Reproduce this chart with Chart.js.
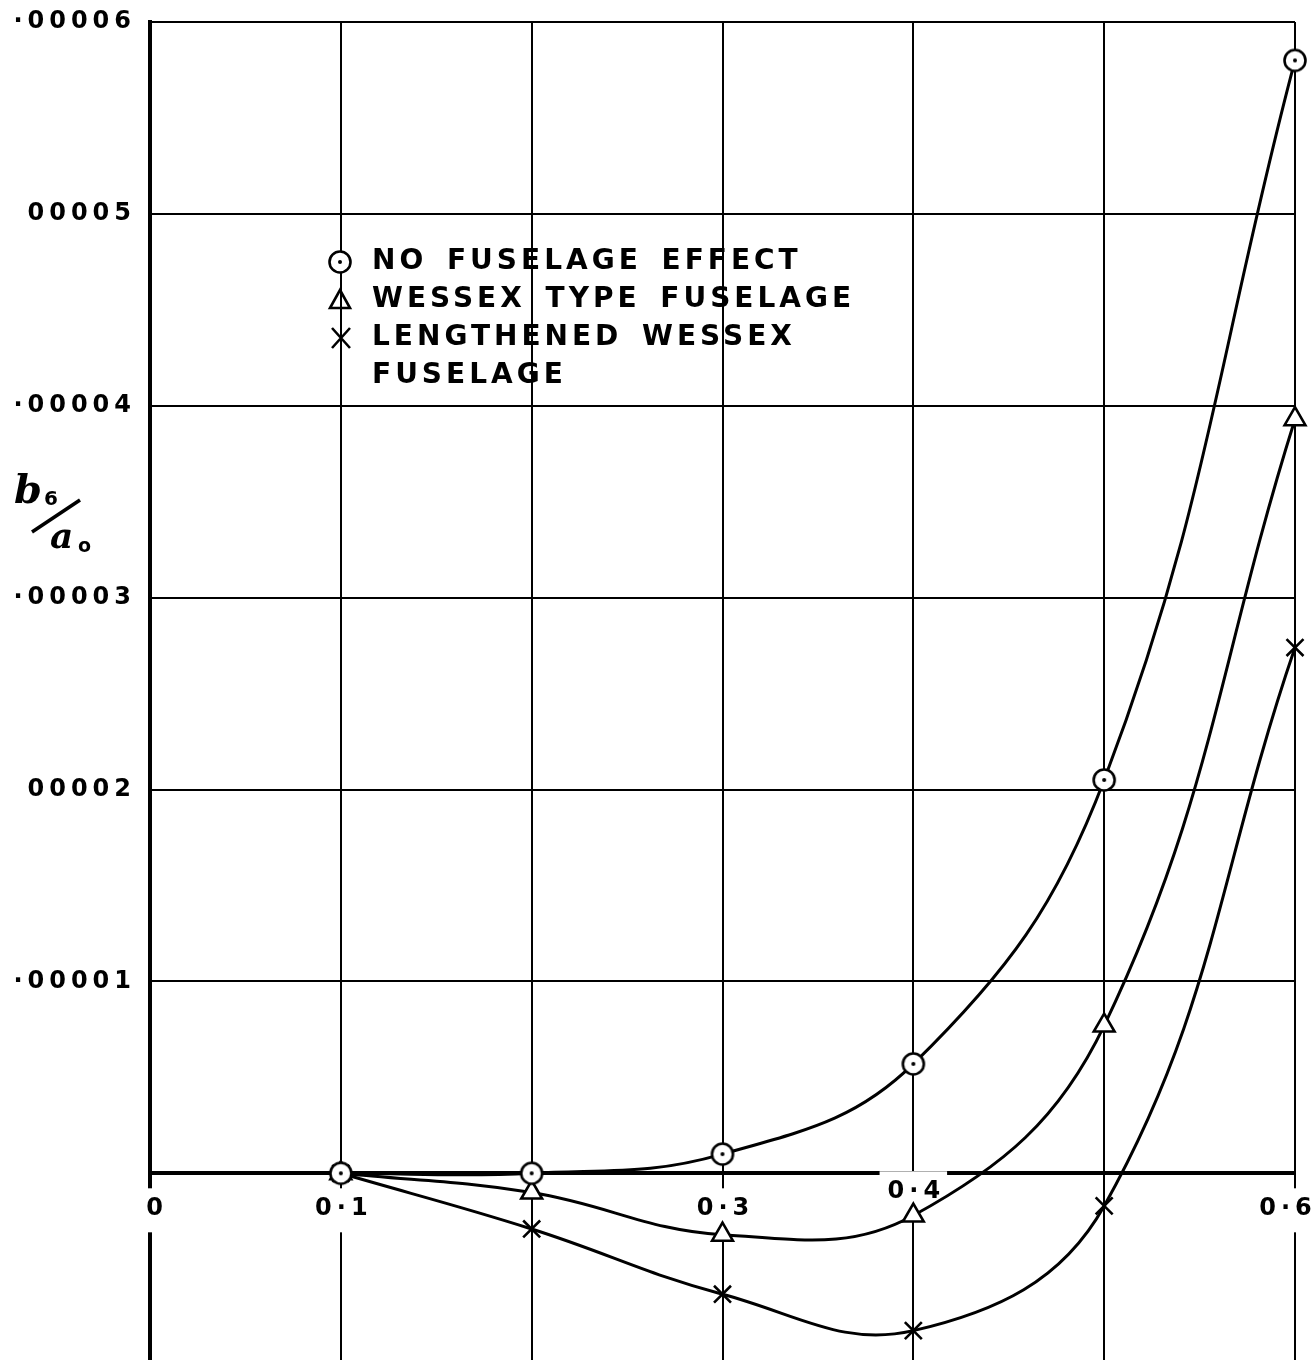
<!DOCTYPE html>
<html>
<head>
<meta charset="utf-8">
<script src="https://cdn.jsdelivr.net/npm/chart.js@4"></script>
<style>
  html, body { margin: 0; padding: 0; background: #fff; overflow: hidden; }
  #wrap { width: 1316px; height: 1360px; position: relative; overflow: hidden; }
  #c { display: block; }
</style>
</head>
<body>
<div id="wrap"><canvas id="c" width="1316" height="1375"></canvas></div>
<script>
// Mach-number stations along the x axis
const xValues = [0.1, 0.2, 0.3, 0.4, 0.5, 0.6];

// b6/a0 for each fuselage case
const noFuselage       = [0, 0, 0.0000010, 0.0000057, 0.0000205, 0.0000580];
const wessexType       = [0, -0.0000010, -0.0000032, -0.0000022, 0.0000077, 0.0000393];
const lengthenedWessex = [0, -0.0000029, -0.0000063, -0.0000082, -0.0000017, 0.0000274];

// Axis tick labels
const yTickValues = [0.00001, 0.00002, 0.00003, 0.00004, 0.00005, 0.00006];
const yTickLabels = ['·00001', '00002', '·00003', '·00004', '00005', '·00006'];
const xTickValues = [0, 0.1, 0.3, 0.4, 0.6];
const xTickLabels = ['0', '0·1', '0·3', '0·4', '0·6'];

// Legend entries
const legendLines = ['NO FUSELAGE EFFECT', 'WESSEX TYPE FUSELAGE', 'LENGTHENED WESSEX', 'FUSELAGE'];

const FONT = '"DejaVu Sans", sans-serif';

function pts(ys) { return xValues.map((x, i) => ({ x: x, y: ys[i] })); }

// circle marker with a centre dot
function dottedCircle() {
  const c = document.createElement('canvas');
  c.width = 28; c.height = 28;
  const g = c.getContext('2d');
  g.beginPath(); g.arc(14, 14, 10.5, 0, Math.PI * 2);
  g.fillStyle = '#fff'; g.fill();
  g.lineWidth = 2.6; g.strokeStyle = '#000'; g.stroke();
  g.beginPath(); g.arc(14, 14, 2, 0, Math.PI * 2);
  g.fillStyle = '#000'; g.fill();
  return c;
}
const circleMarker = dottedCircle();

const annotations = {
  id: 'annotations',
  beforeDraw(chart) {
    chart.ctx.letterSpacing = '5px';
  },
  beforeDatasetsDraw(chart) {
    const ctx = chart.ctx;
    const xs = chart.scales.x, ys = chart.scales.y;
    const y0 = ys.getPixelForValue(0);
    ctx.save();
    ctx.letterSpacing = '5px';
    ctx.font = 'bold 24px ' + FONT;
    ctx.textAlign = 'center';
    ctx.textBaseline = 'middle';
    // x tick labels sit just under the zero line, breaking the grid behind them
    xTickValues.forEach((v, i) => {
      const txt = xTickLabels[i];
      let px = xs.getPixelForValue(v);
      let py = y0 + 35;
      if (v === 0.4) py = y0 + 18;
      if (v === 0) px += 4;
      if (v === 0.6) px -= 10;
      const w = ctx.measureText(txt).width + 10;
      ctx.fillStyle = '#fff';
      ctx.fillRect(px - w / 2, py - 20, w, 44);
      ctx.fillStyle = '#000';
      ctx.fillText(txt, px + 3, py);
    });

    // legend block
    ctx.textAlign = 'left';
    ctx.letterSpacing = '4px';
    ctx.wordSpacing = '6px';
    ctx.font = 'bold 28px ' + FONT;
    const lx = 372, ly = 262, step = 38;
    legendLines.forEach((t, i) => {
      ctx.fillText(t, lx, ly + i * step);
    });
    // legend symbols
    ctx.drawImage(circleMarker, 340 - 14, ly - 14);
    ctx.lineWidth = 2.6; ctx.strokeStyle = '#000';
    ctx.beginPath();
    const ty = ly + step;
    ctx.moveTo(340, ty - 10); ctx.lineTo(350, ty + 8); ctx.lineTo(330, ty + 8); ctx.closePath();
    ctx.stroke();
    const cy = ly + 2 * step;
    ctx.beginPath();
    ctx.moveTo(332, cy - 10); ctx.lineTo(350, cy + 10);
    ctx.moveTo(350, cy - 10); ctx.lineTo(332, cy + 10);
    ctx.stroke();

    // y axis title b6/a0
    ctx.letterSpacing = '0px';
    ctx.wordSpacing = '0px';
    ctx.textBaseline = 'alphabetic';
    ctx.font = 'italic bold 40px "DejaVu Serif", serif';
    ctx.fillText('b', 14, 503);
    ctx.font = 'bold 20px ' + FONT;
    ctx.fillText('6', 44, 505);
    ctx.font = 'italic bold 36px "DejaVu Serif", serif';
    ctx.fillText('a', 50, 548);
    ctx.font = 'bold 19px ' + FONT;
    ctx.fillText('o', 78, 552);
    ctx.lineWidth = 3.5;
    ctx.beginPath(); ctx.moveTo(32, 532); ctx.lineTo(80, 500); ctx.stroke();
    ctx.restore();
  }
};

new Chart(document.getElementById('c'), {
  type: 'line',
  data: {
    datasets: [
      {
        label: 'NO FUSELAGE EFFECT',
        data: pts(noFuselage),
        borderColor: '#000', borderWidth: 3, tension: 0.4,
        pointStyle: circleMarker, pointRadius: 11,
        clip: false
      },
      {
        label: 'WESSEX TYPE FUSELAGE',
        data: pts(wessexType),
        borderColor: '#000', borderWidth: 3, tension: 0.4,
        pointStyle: 'triangle', pointRadius: 12,
        pointBackgroundColor: '#fff', pointBorderColor: '#000', pointBorderWidth: 2.6,
        clip: false
      },
      {
        label: 'LENGTHENED WESSEX FUSELAGE',
        data: pts(lengthenedWessex),
        borderColor: '#000', borderWidth: 3, tension: 0.4,
        pointStyle: 'crossRot', pointRadius: 12,
        pointBackgroundColor: '#fff', pointBorderColor: '#000', pointBorderWidth: 2.6,
        clip: false
      }
    ]
  },
  options: {
    responsive: false,
    animation: false,
    events: [],
    layout: { padding: { top: 22, right: 21, bottom: 0, left: 0 } },
    plugins: { legend: { display: false }, tooltip: { enabled: false } },
    scales: {
      x: {
        type: 'linear', min: 0, max: 0.6,
        border: { display: false },
        ticks: { display: false, stepSize: 0.1 },
        grid: {
          color: '#000',
          lineWidth: ctx => (ctx.tick && Math.abs(ctx.tick.value) < 1e-9 ? 4 : 2),
          drawTicks: false
        },
        afterFit: s => { s.height = 0; s.paddingLeft = 0; s.paddingRight = 0; }
      },
      y: {
        type: 'linear', min: -0.00000975, max: 0.00006,
        afterBuildTicks: s => { s.ticks = [0].concat(yTickValues).map(v => ({ value: v })); },
        border: { display: true, color: '#000', width: 4 },
        grid: {
          color: '#000',
          lineWidth: ctx => (ctx.tick && Math.abs(ctx.tick.value) < 1e-12 ? 4 : 2),
          drawTicks: false
        },
        ticks: {
          color: '#000',
          padding: 14,
          font: { family: FONT, size: 24, weight: 'bold', lineHeight: 0.05 },
          callback: v => {
            const i = yTickValues.findIndex(t => Math.abs(t - v) < 1e-10);
            return i >= 0 ? yTickLabels[i] : '';
          }
        },
        afterFit: s => { s.width = 150; s.paddingTop = 0; s.paddingBottom = 0; }
      }
    }
  },
  plugins: [annotations]
});
</script>
</body>
</html>
